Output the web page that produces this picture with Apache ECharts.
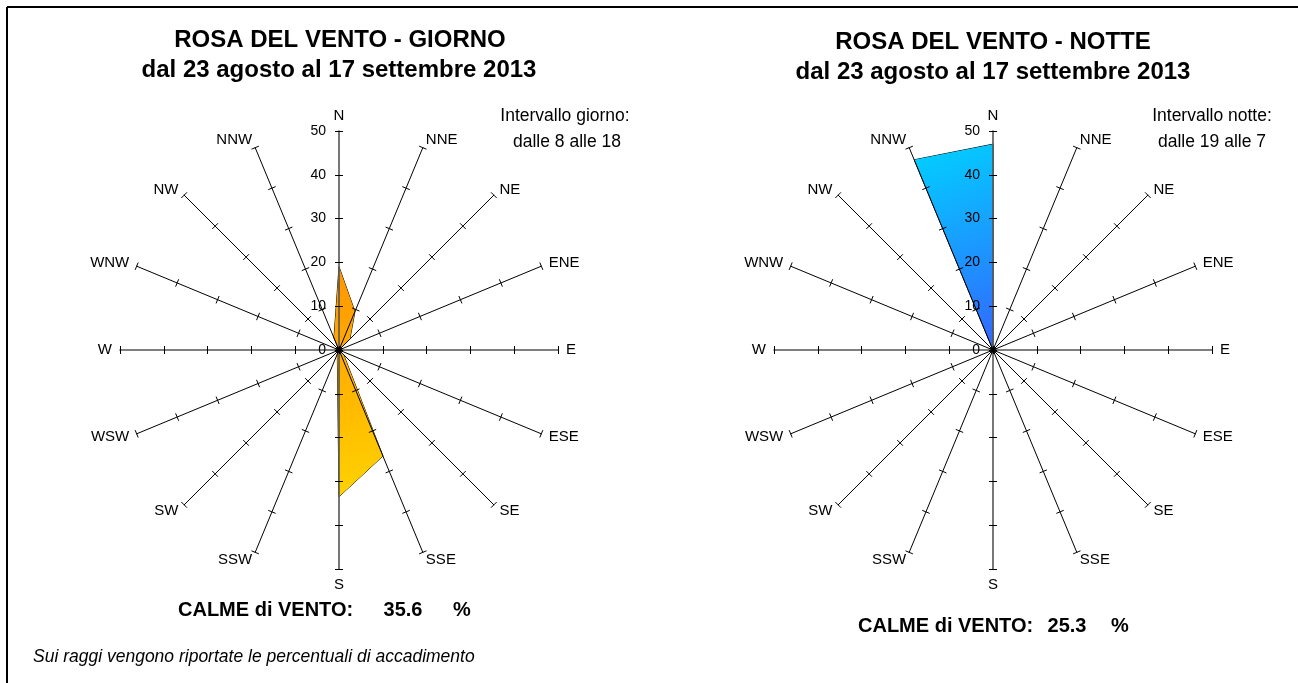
<!DOCTYPE html>
<html>
<head>
<meta charset="utf-8">
<script src="https://cdn.jsdelivr.net/npm/echarts@6/dist/echarts.min.js"></script>
<style>
html,body{margin:0;padding:0;background:#fff;}
#c{width:1298px;height:683px;}
</style>
</head>
<body>
<div id="c"></div>
<script>
// Directions, clockwise from North
var directions = ['N','NNE','NE','ENE','E','ESE','SE','SSE','S','SSW','SW','WSW','W','WNW','NW','NNW'];
// Percentages of occurrence per direction (day: 8-18, night: 19-7)
var dayValues   = [19, 9.5, 3.5, 0, 0, 0, 1.5, 26.2, 33.5, 1, 0, 0, 0, 0, 0, 3];
var nightValues = [47, 0, 0, 0, 0, 0, 0, 0, 0, 0, 0, 0, 0, 0, 0, 47];
var tickLabels = ['0','10','20','30','40','50'];
var axisMax = 50;
var dayCalm = '35.6';
var nightCalm = '25.3';

var FONT = 'Liberation Sans, Arial, Helvetica, sans-serif';

// radar indicators go counter-clockwise: N, NNW, NW, ...
var order = [0];
for (var i = directions.length - 1; i >= 1; i--) order.push(i);

function indicators(withLabels) {
  return order.map(function (k) {
    var d = directions[k];
    var main = (d === 'N' || d === 'E' || d === 'S' || d === 'W');
    var o = { name: d, min: 0, max: axisMax };
    o.axisLine = { lineStyle: main ? { color: '#555', width: 1.6 } : { color: '#000', width: 1 } };
    if (withLabels && d === 'N') {
      o.axisLabel = { show: true, color: '#000', fontSize: 14, fontFamily: FONT, margin: 13,
        formatter: function (v) { return tickLabels[Math.round(v / 10)]; } };
    }
    return o;
  });
}

function radarPair(cx) {
  var base = {
    center: [cx, 350],
    radius: 219,
    startAngle: 90,
    splitNumber: 5,
    shape: 'polygon',
    z: 3,
    splitLine: { show: false },
    splitArea: { show: false }
  };
  var r1 = Object.assign({}, base, {
    indicator: indicators(true),
    nameGap: 8,
    axisName: { show: true, color: '#000', fontSize: 15, fontFamily: FONT },
    axisLine: { show: true },
    axisTick: { show: true, length: 4, lineStyle: { color: '#000', width: 1 } },
    axisLabel: { show: false }
  });
  var r2 = Object.assign({}, base, {
    indicator: indicators(false),
    axisName: { show: false },
    axisLine: { show: false },
    axisTick: { show: true, length: -4, lineStyle: { color: '#000', width: 1 } },
    axisLabel: { show: false }
  });
  return [r1, r2];
}

function reorder(vals) { return order.map(function (k) { return vals[k]; }); }

var txt = function (x, y, text, style) {
  return { type: 'text', x: x, y: y, z: 10,
    style: Object.assign({ text: text, fill: '#000', fontFamily: FONT, fontSize: 16,
      textAlign: 'center', textVerticalAlign: 'middle' }, style || {}) };
};

var chart = echarts.init(document.getElementById('c'), null, { renderer: 'canvas' });
chart.setOption({
  backgroundColor: '#fff',
  animation: false,
  radar: radarPair(339).concat(radarPair(993)),
  series: [
    {
      type: 'radar', radarIndex: 0, symbol: 'none', silent: true, z: 2,
      data: [{
        value: reorder(dayValues),
        lineStyle: { color: '#000', width: 1 },
        areaStyle: { opacity: 1, color: new echarts.graphic.LinearGradient(0, 0, 1, 1, [
          { offset: 0, color: '#FF9400' }, { offset: 1, color: '#FFD400' }]) }
      }]
    },
    {
      type: 'radar', radarIndex: 2, symbol: 'none', silent: true, z: 2,
      data: [{
        value: reorder(nightValues),
        lineStyle: { color: '#000', width: 1 },
        areaStyle: { opacity: 1, color: new echarts.graphic.LinearGradient(0, 0, 1, 1, [
          { offset: 0, color: '#00D2FF' }, { offset: 1, color: '#3366FF' }]) }
      }]
    }
  ],
  graphic: [
    { type: 'line', z: 10, shape: { x1: 7, y1: 7, x2: 1298, y2: 7 }, style: { stroke: '#000', lineWidth: 2 } },
    { type: 'line', z: 10, shape: { x1: 7, y1: 7, x2: 7, y2: 683 }, style: { stroke: '#000', lineWidth: 2 } },
    txt(340, 40, 'ROSA DEL VENTO - GIORNO', { fontSize: 24, fontWeight: 'bold' }),
    txt(339, 70, 'dal 23 agosto al 17 settembre 2013', { fontSize: 24, fontWeight: 'bold' }),
    txt(993, 42, 'ROSA DEL VENTO - NOTTE', { fontSize: 24, fontWeight: 'bold' }),
    txt(993, 72, 'dal 23 agosto al 17 settembre 2013', { fontSize: 24, fontWeight: 'bold' }),
    txt(565, 116, 'Intervallo giorno:', { fontSize: 17.5 }),
    txt(567, 142, 'dalle 8 alle 18', { fontSize: 17.5 }),
    txt(1212, 116, 'Intervallo notte:', { fontSize: 17.5 }),
    txt(1212, 142, 'dalle 19 alle 7', { fontSize: 17.5 }),
    txt(178, 610, 'CALME di VENTO:', { fontSize: 20, fontWeight: 'bold', textAlign: 'left' }),
    txt(403, 610, dayCalm, { fontSize: 20, fontWeight: 'bold' }),
    txt(462, 610, '%', { fontSize: 20, fontWeight: 'bold' }),
    txt(858, 626, 'CALME di VENTO:', { fontSize: 20, fontWeight: 'bold', textAlign: 'left' }),
    txt(1067, 626, nightCalm, { fontSize: 20, fontWeight: 'bold' }),
    txt(1120, 626, '%', { fontSize: 20, fontWeight: 'bold' }),
    txt(33, 657, 'Sui raggi vengono riportate le percentuali di accadimento', { fontSize: 17.5, fontStyle: 'italic', textAlign: 'left' })
  ]
});
</script>
</body>
</html>
